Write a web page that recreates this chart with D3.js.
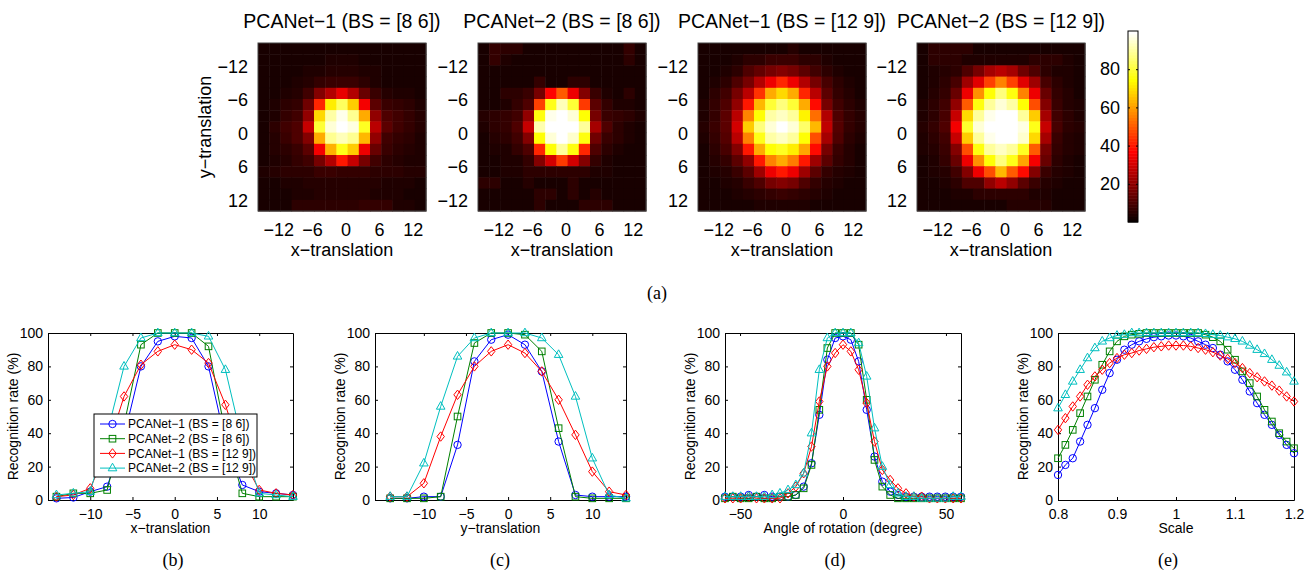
<!DOCTYPE html>
<html><head><meta charset="utf-8">
<script src="https://cdn.jsdelivr.net/npm/d3@7"></script>
<style>
body{margin:0;background:#fff}
text{font-family:"Liberation Sans",Arial,Helvetica,sans-serif;fill:#000}
.cap{font-family:"Liberation Serif","Times New Roman",serif}
</style></head>
<body><svg id="c" width="1316" height="574"></svg>
<script>
// ---------------- DATA ----------------
const transVals = [-14,-12,-10,-8,-6,-4,-2,0,2,4,6,8,10,12,14];
const heatTitles = ["PCANet−1 (BS = [8 6])","PCANet−2 (BS = [8 6])","PCANet−1 (BS = [12 9])","PCANet−2 (BS = [12 9])"];
const heatTicks = [-12,-6,0,6,12];
const heatXTickLabels = ["−12","−6","0","6","12"];
const heatYTickLabels = [
  ["−12","−6","0","6","12"],
  ["−12","−6","0","−6","−12"],
  ["−12","−6","0","6","12"],
  ["−12","−6","0","6","12"]
];
const heat1 = [
 [2,2,2,2,2,2,2,2,2,2,2,2,2,2,2],
 [2,2,2,2,2,2,3,3,3,2,2,2,2,2,2],
 [2,2,2,2,3,3,4,4,4,3,3,2,2,2,2],
 [2,2,2,3,4,6,7,7,7,5,3,2,2,2,2],
 [2,2,3,4,8,18,25,33,25,14,7,4,3,3,2],
 [2,3,5,6,15,42,72,84,67,35,12,7,6,5,3],
 [2,3,6,8,20,69,91,98,89,62,20,10,8,6,4],
 [2,5,8,10,28,80,96,100,97,78,26,12,8,6,4],
 [2,4,7,10,18,62,89,93,89,64,20,8,6,5,3],
 [2,4,5,7,12,35,63,77,67,34,14,7,5,4,3],
 [2,3,4,6,8,16,25,40,28,16,8,5,4,3,3],
 [3,4,5,5,5,7,7,6,6,6,5,5,5,4,4],
 [2,2,3,3,4,4,4,4,4,4,4,3,3,3,2],
 [2,2,2,3,3,4,4,4,4,4,3,3,3,2,2],
 [2,2,2,5,5,5,5,5,5,6,6,6,3,3,2]
];
const heat2 = [
 [2,6,5,5,2,2,2,2,2,2,2,2,2,6,2],
 [2,6,3,2,2,2,2,2,2,2,2,2,2,5,2],
 [2,2,2,2,2,2,2,2,2,2,2,2,2,2,2],
 [2,2,2,2,2,6,2,2,5,5,2,2,2,2,2],
 [2,2,5,5,7,16,37,50,34,18,7,3,2,5,2],
 [2,2,3,6,10,46,77,93,80,45,12,6,3,3,2],
 [4,5,6,8,20,76,98,100,96,75,16,7,6,5,3],
 [3,5,6,10,28,92,100,100,100,90,23,10,5,3,2],
 [2,4,5,8,18,75,96,100,95,76,15,7,5,3,2],
 [2,3,3,6,10,42,75,90,76,42,10,5,3,2,2],
 [2,2,3,3,6,18,30,45,30,18,6,3,2,2,2],
 [2,2,3,3,5,5,5,5,5,5,3,3,2,2,2],
 [5,5,2,2,4,2,2,2,5,2,2,2,2,2,2],
 [2,2,2,2,2,5,5,2,5,2,4,2,2,2,2],
 [2,2,2,2,2,5,2,2,2,5,5,5,2,2,2]
];
const heat3 = [
 [2,2,2,2,2,2,2,2,4,2,2,2,2,2,2],
 [2,2,2,3,5,5,7,7,7,5,5,3,2,2,2],
 [2,2,3,5,10,13,16,18,16,12,8,5,3,2,2],
 [2,3,5,10,16,25,34,42,34,25,16,9,5,3,2],
 [2,5,8,16,26,44,62,69,62,42,26,12,6,4,2],
 [3,6,10,20,40,64,80,87,80,62,38,16,8,5,3],
 [3,6,12,26,56,75,91,94,90,73,53,25,10,6,4],
 [4,7,12,30,67,87,96,100,96,85,64,27,11,6,4],
 [3,6,11,26,56,77,91,94,90,75,48,23,10,5,3],
 [2,5,9,18,40,62,75,78,72,61,38,16,7,4,2],
 [2,4,6,12,20,40,56,62,55,40,22,12,6,4,2],
 [2,3,4,7,12,22,34,40,34,22,12,6,4,3,2],
 [2,2,3,4,7,10,16,18,16,10,6,4,3,2,2],
 [2,2,2,3,4,5,6,7,6,5,4,3,2,2,2],
 [2,2,2,2,2,3,3,3,3,3,2,2,2,2,2]
];
const heat4 = [
 [2,5,5,5,5,2,2,2,2,2,2,2,2,2,2],
 [2,5,5,5,3,3,3,3,3,3,5,5,5,3,2],
 [2,3,4,5,10,16,23,26,23,15,10,5,3,3,2],
 [2,3,5,9,22,32,46,56,46,32,22,9,5,3,2],
 [2,4,6,14,34,58,75,87,76,56,34,14,6,4,2],
 [3,5,8,20,50,76,90,96,91,75,48,18,7,4,3],
 [3,5,9,28,69,90,98,100,100,90,67,23,8,5,3],
 [4,6,10,35,79,96,100,100,100,97,77,28,9,5,4],
 [3,5,8,28,67,90,98,100,100,95,69,23,7,4,3],
 [3,4,7,18,48,76,90,94,90,78,50,16,6,4,3],
 [2,3,6,14,34,58,75,87,77,61,35,14,5,3,2],
 [2,3,4,8,18,34,48,64,50,38,18,7,4,3,2],
 [2,2,3,5,10,10,20,26,20,12,7,4,3,2,2],
 [2,2,2,3,3,5,5,5,5,5,3,3,2,2,2],
 [2,2,2,2,2,2,2,2,4,4,4,4,2,2,2]
];
const colorbarTicks = [20,40,60,80];

const seriesNames = ["PCANet−1 (BS = [8 6])","PCANet−2 (BS = [8 6])","PCANet−1 (BS = [12 9])","PCANet−2 (BS = [12 9])"];
const seriesColors = ["#0000ff","#008000","#ff0000","#00bfbf"];
const seriesMarkers = ["circle","square","diamond","triangle"];

// (b) x-translation
const xTrans = [-14,-12,-10,-8,-6,-4,-2,0,2,4,6,8,10,12,14];
const xTransBlue  = [1,1.5,5,8,38,80,95,98,97,80,35,9,5,4,3];
const xTransGreen = [2,4,4,6,45,93,100,100,100,92,40,4,2,2,2];
const xTransRed   = [2,3,7,30,62,81,89,93,90,82,57,25,6,4,3];
const xTransCyan  = [3,4,5,40,80,97,100,100,100,98,78,35,4,3,2];
// (c) y-translation
const yTrans = [-14,-12,-10,-8,-6,-4,-2,0,2,4,6,8,10,12,14];
const yTransBlue  = [1,1,2,2,33,83,96,99,93,77,35,3,2,2,2];
const yTransGreen = [1,1,1,2,50,94,100,100,99,89,43,2,1,1,1];
const yTransRed   = [2,2,10,38,63,80,89,93,88,77,60,39,17,5,3];
const yTransCyan  = [2,2,22,56,86,97,100,100,100,97,87,62,25,3,1];
// (d) rotation
const rotAngles = [-57.3,-53.5,-49.7,-45.8,-42.0,-38.2,-34.4,-30.6,-26.7,-22.9,-19.1,-15.3,-11.5,-7.6,-3.8,0,3.8,7.6,11.5,15.3,19.1,22.9,26.7,30.6,34.4,38.2,42.0,45.8,49.7,53.5,57.3];
const rotBlue  = [2,2,2,3,2,3,2,2,2,3,8,22,51,84,97,98,96,83,54,26,11,5,3,2,2,2,2,2,2,2,2];
const rotGreen = [1,2,1,1,2,1,1,2,2,3,7,21,54,91,100,100,100,93,60,24,8,3,1,1,1,1,1,1,1,1,1];
const rotRed   = [1,1,1,2,1,1,1,1,4,8,16,32,59,80,88,93,89,78,58,35,18,12,7,4,2,2,1,1,1,1,1];
const rotCyan  = [2,2,2,2,2,2,3,4,6,9,16,40,78,97,100,100,100,94,74,43,20,9,4,2,2,1,1,1,1,2,2];
// (e) scale
const scales = [0.8,0.8125,0.825,0.8375,0.85,0.8625,0.875,0.8875,0.9,0.9125,0.925,0.9375,0.95,0.9625,0.975,0.9875,1,1.0125,1.025,1.0375,1.05,1.0625,1.075,1.0875,1.1,1.1125,1.125,1.1375,1.15,1.1625,1.175,1.1875,1.2];
const scaleBlue  = [15,21,25,35,45,55,66,76,84,90,93,95,96.5,97.5,98,98.5,98.5,98,97,95,93,91,87,83,78,72,65,58,51,45,39,33,28];
const scaleGreen = [25,33,42,52,62,72,81,89,95,98,99,99.5,100,100,100,100,100,100,100,100,99,97.5,95,90,84,77,70,62,54,47,40,35,31];
const scaleRed   = [42,49,56,62,69,74,78,82,85,87,88,89.5,90.5,91.5,92,92.5,92.5,92.5,92,91,90,88.5,86.5,84.5,82,79,76,73.5,71,68.5,65.5,62,59];
const scaleCyan  = [55,63,71,78,85,91,95,97,98.5,99,100,100,100,100,100,100,100,100,100,100,99.5,99,98.5,97.5,96.5,95,92.5,90,87.5,84,80.5,76.5,71];

const yTicks = [0,20,40,60,80,100];

// ---------------- DRAW ----------------
const svg = d3.select("#c");

function hot(t){
  t = Math.max(0, Math.min(1, t));
  const i = 63*t + 1;
  const r = Math.min(1, i/24);
  const g = Math.max(0, Math.min(1, (i-24)/24));
  const b = Math.max(0, Math.min(1, (i-48)/16));
  return d3.rgb(r*255, g*255, b*255).toString();
}
const color = d3.scaleSequential(hot).domain([0, 100]);

const heats = [heat1, heat2, heat3, heat4];
const heatLefts = [258, 478, 698, 917];
const heatTop = 43, heatSize = 168;

heats.forEach((mat, k) => {
  const g = svg.append("g");
  const x = d3.scaleBand().domain(transVals).range([heatLefts[k], heatLefts[k] + heatSize]);
  const y = d3.scaleBand().domain(transVals).range([heatTop, heatTop + heatSize]);
  const cells = [];
  mat.forEach((row, r) => row.forEach((v, c) => cells.push({xv: transVals[c], yv: transVals[r], v})));
  g.selectAll("rect.cell").data(cells).join("rect")
    .attr("x", d => x(d.xv)).attr("y", d => y(d.yv))
    .attr("width", x.bandwidth() + 0.5).attr("height", y.bandwidth() + 0.5)
    .attr("fill", d => color(d.v));
  g.append("rect").attr("x", heatLefts[k]).attr("y", heatTop).attr("width", heatSize).attr("height", heatSize)
    .attr("fill", "none").attr("stroke", "#444").attr("stroke-width", 1);

  const xa = g.append("g").attr("transform", `translate(0,${heatTop + heatSize})`)
    .call(d3.axisBottom(x).tickValues(heatTicks).tickSize(0).tickPadding(12)
      .tickFormat((d, i) => heatXTickLabels[i]));
  xa.select(".domain").remove();
  xa.selectAll(".tick text").attr("dx", 4);
  const ya = g.append("g").attr("transform", `translate(${heatLefts[k]},0)`)
    .call(d3.axisLeft(y).tickValues(heatTicks).tickSize(0).tickPadding(10)
      .tickFormat((d, i) => heatYTickLabels[k][i]));
  ya.select(".domain").remove();
  ya.selectAll(".tick text").attr("y", 7);
  g.selectAll(".tick text").attr("font-size", 18).attr("font-family", null);

  g.append("text").attr("x", heatLefts[k] + heatSize/2).attr("y", 28)
    .attr("text-anchor", "middle").attr("font-size", 19.5).text(heatTitles[k]);
  g.append("text").attr("x", heatLefts[k] + heatSize/2).attr("y", 256)
    .attr("text-anchor", "middle").attr("font-size", 18).text("x−translation");
  if (k === 0) {
    g.append("text").attr("transform", `translate(211,${heatTop + heatSize/2}) rotate(-90)`)
      .attr("text-anchor", "middle").attr("font-size", 18).text("y−translation");
  }
});

// colorbar
{
  const cbX = 1128, cbW = 10, cbTop = 31, cbBot = 222;
  const cy = d3.scaleLinear().domain([0, 100]).range([cbBot, cbTop]);
  const levels = d3.range(64);
  svg.append("g").selectAll("rect").data(levels).join("rect")
    .attr("x", cbX).attr("width", cbW)
    .attr("y", d => cy((d + 1) * 100 / 64)).attr("height", d => cy(d * 100 / 64) - cy((d + 1) * 100 / 64) + 0.5)
    .attr("fill", d => hot(d / 63));
  svg.append("rect").attr("x", cbX).attr("y", cbTop).attr("width", cbW).attr("height", cbBot - cbTop)
    .attr("fill", "none").attr("stroke", "#000");
  const ca = svg.append("g").attr("transform", `translate(${cbX},0)`)
    .call(d3.axisLeft(cy).tickValues(colorbarTicks).tickSize(-2).tickPadding(8));
  ca.select(".domain").remove();
  ca.selectAll(".tick text").attr("font-size", 18).attr("font-family", null);
  svg.append("g").attr("transform", `translate(${cbX + cbW},0)`)
    .call(d3.axisRight(cy).tickValues(colorbarTicks).tickSize(-2).tickFormat(""))
    .select(".domain").remove();
}

svg.append("text").attr("class", "cap").attr("x", 657).attr("y", 299).attr("text-anchor", "middle")
  .attr("font-size", 18).text("(a)");

// line panels
const panels = [
  {x0: 48, w: 245, dom: [-15, 14], ticks: [-10,-5,0,5,10], xs: xTrans, ys: [xTransBlue, xTransGreen, xTransRed, xTransCyan], xl: "x−translation", cap: "(b)", capX: 173, legend: true},
  {x0: 375, w: 251, dom: [-15.8, 14], ticks: [-10,-5,0,5,10], xs: yTrans, ys: [yTransBlue, yTransGreen, yTransRed, yTransCyan], xl: "y−translation", cap: "(c)", capX: 500},
  {x0: 725, w: 236, dom: [-57.3, 57.3], ticks: [-50,0,50], xs: rotAngles, ys: [rotBlue, rotGreen, rotRed, rotCyan], xl: "Angle of rotation (degree)", cap: "(d)", capX: 835},
  {x0: 1058, w: 236, dom: [0.8, 1.2], ticks: [0.8,0.9,1,1.1,1.2], xs: scales, ys: [scaleBlue, scaleGreen, scaleRed, scaleCyan], xl: "Scale", cap: "(e)", capX: 1168}
];
const pTop = 333, pBot = 500;

function marker(sel, type, col) {
  if (type === "circle") sel.append("circle").attr("r", 3.7);
  else if (type === "square") sel.append("rect").attr("x", -3.3).attr("y", -3.3).attr("width", 6.6).attr("height", 6.6);
  else if (type === "diamond") sel.append("path").attr("d", "M0,-4.7L3.7,0L0,4.7L-3.7,0Z");
  else sel.append("path").attr("d", "M0,-4.9L4.3,2.7L-4.3,2.7Z");
  sel.selectAll("*").attr("fill", "none").attr("stroke", col).attr("stroke-width", 1);
}

panels.forEach(p => {
  const g = svg.append("g");
  const x = d3.scaleLinear().domain(p.dom).range([p.x0, p.x0 + p.w]);
  const y = d3.scaleLinear().domain([0, 100]).range([pBot, pTop]);
  const fmt = d3.format("");
  g.append("g").attr("transform", `translate(0,${pBot})`)
    .call(d3.axisBottom(x).tickValues(p.ticks).tickSizeInner(-3).tickSizeOuter(0).tickPadding(9).tickFormat(fmt));
  g.append("g").attr("transform", `translate(0,${pTop})`)
    .call(d3.axisTop(x).tickValues(p.ticks).tickSizeInner(-3).tickSizeOuter(0).tickFormat(""));
  g.append("g").attr("transform", `translate(${p.x0},0)`)
    .call(d3.axisLeft(y).tickValues(yTicks).tickSizeInner(-3).tickSizeOuter(0).tickPadding(5));
  g.append("g").attr("transform", `translate(${p.x0 + p.w},0)`)
    .call(d3.axisRight(y).tickValues(yTicks).tickSizeInner(-3).tickSizeOuter(0).tickFormat(""));
  g.selectAll(".tick text").attr("font-size", 14).attr("font-family", null);
  g.selectAll(".domain").attr("stroke", "#000");

  const clip = "clip" + p.cap.replace(/[()]/g, "");
  svg.append("clipPath").attr("id", clip).append("rect").attr("x", p.x0 - 6).attr("y", pTop - 6).attr("width", p.w + 12).attr("height", pBot - pTop + 12);
  const dg = g.append("g").attr("clip-path", `url(#${clip})`);
  p.ys.forEach((vals, s) => {
    const pts = p.xs.map((xv, i) => [xv, vals[i]]);
    dg.append("path").attr("d", d3.line().x(d => x(d[0])).y(d => y(d[1]))(pts))
      .attr("fill", "none").attr("stroke", seriesColors[s]).attr("stroke-width", 1);
    const mg = dg.append("g");
    pts.forEach(d => {
      const m = mg.append("g").attr("transform", `translate(${x(d[0])},${y(d[1])})`);
      marker(m, seriesMarkers[s], seriesColors[s]);
    });
  });

  g.append("text").attr("x", p.x0 + p.w/2).attr("y", 533).attr("text-anchor", "middle")
    .attr("font-size", 14).text(p.xl);
  g.append("text").attr("transform", `translate(${p.x0 - 30},${(pTop + pBot)/2}) rotate(-90)`)
    .attr("text-anchor", "middle").attr("font-size", 14).text("Recognition rate (%)");
  g.append("text").attr("class", "cap").attr("x", p.capX).attr("y", 566).attr("text-anchor", "middle")
    .attr("font-size", 18).text(p.cap);

  if (p.legend) {
    const lg = g.append("g");
    lg.append("rect").attr("x", 94).attr("y", 414).attr("width", 163).attr("height", 63)
      .attr("fill", "#fff").attr("stroke", "#000");
    seriesNames.forEach((nm, s) => {
      const yy = 424 + s * 14.7;
      lg.append("line").attr("x1", 100).attr("x2", 125).attr("y1", yy).attr("y2", yy)
        .attr("stroke", seriesColors[s]);
      marker(lg.append("g").attr("transform", `translate(112.5,${yy})`), seriesMarkers[s], seriesColors[s]);
      lg.append("text").attr("x", 128).attr("y", yy + 4.3).attr("font-size", 12).text(nm);
    });
  }
});
</script></body></html>
